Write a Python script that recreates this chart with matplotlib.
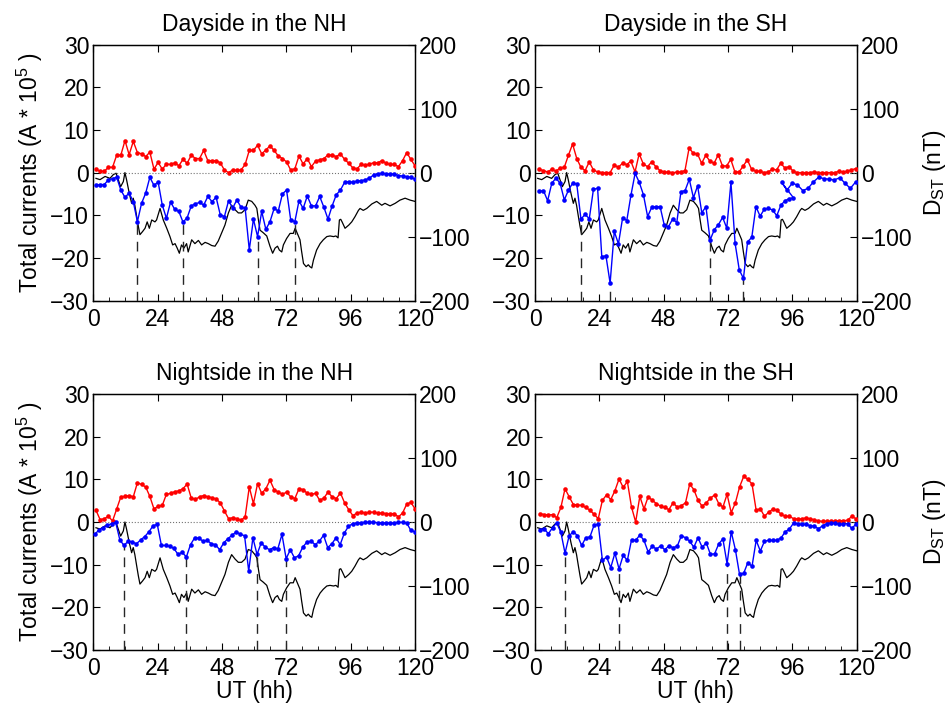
import numpy as np
import matplotlib
matplotlib.use("Agg")
import matplotlib.pyplot as plt

plt.rcParams['font.family'] = ['Liberation Sans', 'DejaVu Sans']
plt.rcParams['mathtext.fontset'] = 'custom'
plt.rcParams['mathtext.rm'] = 'Liberation Sans'
plt.rcParams['mathtext.it'] = 'Liberation Sans:italic'
plt.rcParams['axes.unicode_minus'] = True

# ---------------- data ----------------
titles = ["Dayside in the NH", "Dayside in the SH", "Nightside in the NH", "Nightside in the SH"]
xticks = [0, 24, 48, 72, 96, 120]
yticks_left = [-30, -20, -10, 0, 10, 20, 30]
yticks_right = [-200, -100, 0, 100, 200]

# Dst index (nT)
dst_t = [1.0, 2.5, 4.4, 6.2, 7.5, 8.5, 10.2, 11.2, 11.8, 12.4,
         13.4, 14.3, 14.9, 15.5, 16.2, 16.8, 17.4, 18.4, 19.3, 20.1,
         20.9, 21.8, 23.0, 23.6, 24.9, 26.1, 27.4, 28.6, 29.6, 30.5,
         31.3, 32.1, 32.9, 33.8, 34.8, 35.4, 36.7, 37.9, 39.2, 40.4,
         41.7, 42.9, 44.2, 45.4, 46.6, 47.9, 49.1, 50.4, 51.6, 52.9,
         54.1, 55.3, 56.6, 57.8, 59.1, 60.3, 61.0, 61.6, 62.2, 63.4,
         64.7, 65.9, 66.9, 67.8, 68.7, 69.4, 70.3, 70.9, 72.1, 73.4,
         74.6, 75.3, 76.1, 77.1, 77.7, 78.4, 79.4, 80.2, 80.8, 81.5,
         82.1, 83.3, 84.6, 85.8, 87.1, 88.3, 89.6, 90.5, 91.3, 91.8,
         92.3, 92.8, 93.9, 95.3, 96.4, 97.6, 98.9, 99.5, 100.7, 102.0,
         103.9, 105.7, 107.6, 108.8, 110.7, 112.6, 114.4, 116.3, 118.2, 120.0]
dst_v = [-9, -11, -6, -9, -3, -1, -22, -14, 0, -11,
         -32, -48, -40, -51, -69, -84, -97, -92, -87, -77,
         -87, -74, -77, -74, -56, -74, -87, -100, -113, -111,
         -118, -126, -113, -118, -111, -124, -105, -111, -106, -113,
         -109, -111, -114, -115, -107, -94, -82, -63, -51, -58,
         -63, -63, -58, -43, -45, -51, -56, -74, -90, -94,
         -99, -115, -126, -118, -115, -121, -124, -113, -103, -95,
         -95, -87, -95, -105, -123, -142, -147, -144, -147, -149,
         -137, -121, -111, -105, -100, -99, -100, -99, -102, -74,
         -73, -77, -87, -82, -77, -69, -59, -56, -59, -56,
         -49, -45, -51, -48, -52, -48, -43, -40, -43, -45]

# Panel 1: Dayside NH
red1 = [0.8, 0.3, 0.3, 1.25, 1.25, 4.1, 4.1, 7.5, 4.2, 7.3,
        4.7, 4.4, 3.75, 4.8, 0.8, 2.4, 0.8, 2.0, 1.9, 2.3,
        1.6, 3.1, 2.2, 4.1, 3.3, 3.3, 5.2, 2.8, 2.8, 2.8,
        2.3, 0.6, 0.0, 0.6, 0.5, 0.6, 1.9, 5.2, 5.2, 6.4,
        4.4, 5.3, 6.25, 5.2, 3.9, 3.3, 2.5, 0.6, 0.9, 3.9,
        2.0, 3.3, 1.4, 2.7, 3.0, 3.3, 4.1, 4.1, 3.75, 4.4,
        3.1, 2.2, 1.1, 0.9, 1.9, 1.7, 2.0, 2.3, 2.3, 2.8,
        2.2, 1.9, 1.9, 1.4, 2.8, 4.7, 3.1, 1.6]
blue1 = [-3.0, -2.8, -2.8, -1.7, -1.4, -1.1, -4.1, -5.8, -4.8, -6.8,
         -11.5, -7.2, -4.8, -1.1, -3.0, -2.2, -7.6, -10.7, -6.9, -8.6,
         -9.1, -11.6, -10.6, -7.8, -7.3, -7.0, -7.6, -5.6, -6.8, -5.8,
         -9.9, -10.3, -6.6, -8.3, -6.4, -8.1, -8.3, -18.1, -10.9, -15.0,
         -9.1, -13.3, -11.5, -8.4, -9.0, -5.0, -4.1, -11.1, -11.5, -6.6,
         -8.4, -5.5, -7.8, -7.8, -5.6, -8.1, -10.9, -7.8, -5.2, -4.1,
         -2.3, -2.1, -2.3, -1.95, -1.9, -1.7, -1.3, -0.55, -0.3, -0.15,
         -0.3, -0.4, -0.3, -0.7, -0.8, -0.95, -1.1, -1.55]

# Panel 2: Dayside SH
red2 = [0.78, 0.47, 0.16, 0.78, 0.31, 1.09, 1.25, 4.06, 6.7, 3.3,
        1.25, 0.47, 2.5, 0.63, 0.16, 0.0, 0.0, 0.0, 1.72, 1.25,
        2.19, 1.88, 2.66, 0.16, 4.4, 2.0, 1.4, 2.5, 1.4, 0.47,
        0.16, 0.08, 0.0, 0.08, 0.16, 0.47, 5.8, 4.5, 4.4, 2.19,
        4.06, 2.66, 2.19, 4.2, 1.56, 1.56, 3.1, 0.16, 0.16, 1.56,
        3.0, 0.78, 0.31, 0.31, 0.0, 0.16, 0.78, 0.63, 2.19, 1.09,
        1.4, 0.31, 0.0, 0.0, 0.0, 0.0, 0.16, 0.0, 0.0, 0.0,
        0.0, 0.0, 0.31, 0.16, 0.31, 0.63, 0.94]
blue2a = [-4.4, -4.2, -6.6, -2.5, -1.3, -2.5, -6.4, -4.1, -2.5, -2.7,
          -10.9, -9.8, -10.8, -3.9, -3.7, -19.7, -19.5, -25.9, -13.8, -16.7,
          -10.6, -11.25, -5.3, -0.16, -2.3, -5.2, -10.3, -8.1, -8.0, -8.0,
          -12.3, -12.7, -10.9, -11.7, -4.5, -4.2, -1.56, -5.9, -3.1, -9.4,
          -8.0, -15.8, -13.4, -12.2, -10.5, -13.0, -2.3, -16.6, -22.8, -24.8,
          -16.2, -15.2, -8.0, -10.2, -8.6, -8.4, -8.75, -10.1, -7.6, -6.6,
          -6.1, -5.9]
blue2b = [-2.3, -4.1, -2.5, -2.9, -4.2, -3.7, -2.2, -1.1, -1.4, -1.56,
          -1.7, -1.2, -2.5, -3.7, -2.2]

# Panel 3: Nightside NH
red3 = [2.75, 0.55, 0.78, 1.33, 0.24, 3.06, 5.9, 6.0, 6.2, 5.9,
        9.2, 8.8, 8.2, 6.0, 3.06, 3.7, 3.9, 6.5, 6.7, 7.1,
        7.3, 7.8, 8.9, 5.6, 5.3, 5.9, 6.2, 5.9, 5.7, 5.4,
        4.5, 2.6, 0.78, 1.0, 0.78, 0.39, 1.18, 8.2, 4.3, 9.0,
        6.7, 7.8, 9.8, 7.6, 7.0, 6.5, 7.0, 5.9, 5.5, 7.8,
        7.6, 6.7, 6.5, 6.7, 5.1, 5.6, 7.0, 5.9, 5.5, 6.8,
        4.5, 2.9, 1.5, 2.1, 2.3, 2.1, 2.3, 2.3, 2.1, 2.1,
        1.96, 1.96, 1.96, 1.18, 2.1, 4.2, 4.6, 3.1]
blue3 = [-2.9, -1.8, -1.33, -0.78, -0.39, -0.08, -4.2, -5.5, -4.5, -4.7,
         -5.1, -4.2, -3.4, -2.3, -0.86, -0.55, -5.5, -5.5, -5.7, -6.2,
         -7.6, -7.1, -8.2, -5.3, -3.7, -3.8, -4.5, -4.3, -5.1, -5.3,
         -6.5, -4.9, -3.9, -3.1, -2.3, -2.9, -3.2, -11.5, -3.7, -7.6,
         -4.9, -5.9, -6.5, -6.0, -6.3, -2.9, -8.6, -6.5, -8.4, -7.9,
         -5.9, -4.7, -4.5, -5.3, -4.5, -3.1, -6.0, -5.1, -3.7, -5.3,
         -2.6, -1.0, -0.39, -0.24, -0.16, -0.08, -0.08, -0.08, -0.16, -0.16,
         -0.24, -0.24, -0.24, -0.08, -0.08, -0.24, -1.96, -2.3]

# Panel 4: Nightside SH
red4 = [1.96, 1.73, 1.65, 1.73, 1.0, 3.4, 7.8, 5.9, 4.1, 4.0,
        3.9, 3.4, 2.75, 1.8, 0.78, 5.1, 6.35, 5.25, 7.3, 10.1,
        8.1, 9.5, 3.5, 0.0, 6.0, 3.06, 5.9, 5.1, 4.3, 3.7,
        3.4, 2.9, 4.5, 3.5, 3.84, 4.5, 8.9, 7.6, 5.1, 3.7,
        4.5, 5.6, 6.35, 4.3, 3.5, 6.5, 2.2, 4.5, 8.2, 10.7,
        10.0, 8.9, 2.75, 3.1, 1.33, 2.3, 3.0, 2.75, 1.8, 1.33,
        1.33, 0.78, 0.7, 0.7, 1.0, 0.7, 0.55, 0.24, 0.16, 0.16,
        0.16, 0.24, 0.31, 0.31, 0.39, 1.33, 0.78]
blue4 = [-1.8, -1.65, -2.75, -1.33, -0.24, -2.43, -7.3, -3.2, -2.3, -3.2,
         -5.5, -3.7, -3.5, -0.7, -0.55, -9.0, -8.2, -10.7, -7.3, -11.0,
         -7.8, -9.0, -4.2, -4.3, -3.06, -4.3, -7.0, -5.7, -6.35, -5.6,
         -6.5, -5.6, -6.0, -5.7, -3.2, -3.7, -4.5, -5.9, -3.7, -5.9,
         -4.9, -7.6, -7.45, -5.1, -4.0, -9.8, -2.3, -6.5, -12.3, -12.0,
         -9.5, -10.4, -4.3, -6.8, -4.5, -4.3, -4.3, -4.3, -3.7, -2.3,
         -1.65, -0.24, -0.39, -0.55, -0.55, -0.86, -1.0, -1.57, -0.86, -0.39,
         -0.24, -0.24, -0.55, -0.39, -0.39, -1.5, -0.55]

# Time spans (hours) of the orbit-by-orbit series
span1 = (1.0, 120.0)
span2r = (1.6, 119.6)
span2a = (1.6, 96.4)
span2b = (92.0, 119.6)
span3r = (1.0, 120.0)
span3b = (0.6, 120.0)
span4 = (1.9, 119.7)

# Times of the dashed markers (storm minima)
dash1 = [16.8, 33.6, 61.6, 75.5]
dash2 = [17.2, 28.0, 65.3, 77.7]
dash3 = [11.7, 34.8, 61.2, 72.9]
dash4 = [11.4, 31.5, 71.9, 76.5]

# ---------------- build panels ----------------
def tl(span, vals):
    return np.linspace(span[0], span[1], len(vals))

panels = []
t2a = tl(span2a, blue2a)
t2b = tl(span2b, blue2b)
panels.append(dict(rt=tl(span1, red1), r=red1, bt=tl(span1, blue1), b=blue1,
                   dash=dash1, dbt=tl(span1, blue1), db=blue1))
panels.append(dict(rt=tl(span2r, red2), r=red2,
                   bt=np.concatenate([t2a, t2b]), b=blue2a + blue2b,
                   dash=dash2, dbt=t2a, db=blue2a))
panels.append(dict(rt=tl(span3r, red3), r=red3, bt=tl(span3b, blue3), b=blue3,
                   dash=dash3, dbt=tl(span3b, blue3), db=blue3))
panels.append(dict(rt=tl(span4, red4), r=red4, bt=tl(span4, blue4), b=blue4,
                   dash=dash4, dbt=tl(span4, blue4), db=blue4))

W, H = 952, 709
fig = plt.figure(figsize=(W / 100, H / 100), dpi=100)

lefts = [93.3, 535.0]
tops = [44.6, 394.0]
aw, ah = 321.7, 256.0
FS = 16.5

for k, p in enumerate(panels):
    col, row = k % 2, k // 2
    x0 = lefts[col] / W
    y0 = 1 - (tops[row] + ah) / H
    ax = fig.add_axes([x0, y0, aw / W, ah / H])
    ax2 = ax.twinx()

    ax.set_xlim(0, 120)
    ax.set_ylim(-30, 30)
    ax2.set_ylim(-200, 200)

    ax.axhline(0, color='0.45', lw=0.8, ls=':', zorder=1)
    ax2.plot(dst_t, dst_v, color='k', lw=0.9, zorder=2)

    # dashed lines from blue minimum down to the bottom
    dbt = np.asarray(p['dbt'])
    db = np.asarray(p['db'])
    for td in p['dash']:
        i = int(np.argmin(np.abs(dbt - td)))
        lo, hi = max(i - 1, 0), min(i + 2, len(db))
        j = lo + int(np.argmin(db[lo:hi]))
        ax.plot([dbt[j], dbt[j]], [-30, db[j]], color='0.15', lw=1.0,
                ls=(0, (7, 5)), zorder=3)

    ax.plot(p['rt'], p['r'], color='#ff0000', lw=1.0, marker='o', ms=3.3,
            mew=0, zorder=5)
    ax.plot(p['bt'], p['b'], color='#0000ff', lw=1.0, marker='o', ms=3.3,
            mew=0, zorder=5)

    ax.set_zorder(ax2.get_zorder() + 1)
    ax.patch.set_visible(False)

    ax.set_xticks(xticks)
    ax.set_xticks(np.arange(0, 121, 6), minor=True)
    ax.set_yticks(yticks_left)
    ax2.set_yticks(yticks_right)
    ax.tick_params(axis='x', which='major', direction='in', length=5,
                   top=True, labelsize=FS, pad=5)
    ax.tick_params(axis='x', which='minor', direction='in', length=3,
                   top=False)
    ax.tick_params(axis='y', direction='in', length=5, labelsize=FS, pad=3)
    ax2.tick_params(axis='y', direction='in', length=5, labelsize=FS, pad=3)
    for a in (ax, ax2):
        for s in a.spines.values():
            s.set_linewidth(0.9)

    ax.set_title(titles[k], fontsize=FS, pad=10)
    if col == 0:
        ax.set_ylabel('Total currents (A * 10$^5$ )', fontsize=FS, labelpad=4)
    else:
        ax2.set_ylabel('D$_{\\mathrm{ST}}$ (nT)', fontsize=FS, labelpad=6)
    if row == 1:
        ax.set_xlabel('UT (hh)', fontsize=FS, labelpad=0)

fig.savefig('out.png', dpi=100)
